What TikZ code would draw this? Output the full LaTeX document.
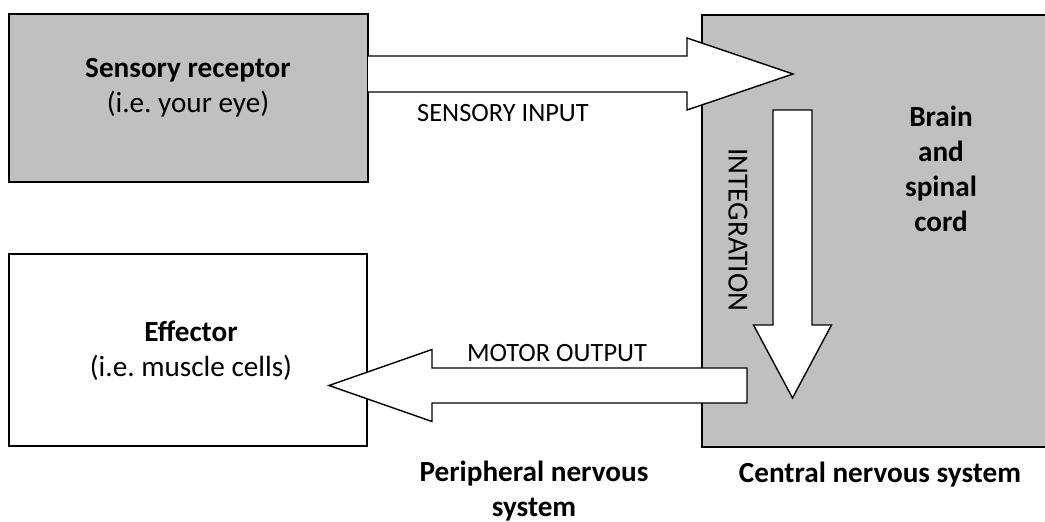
\documentclass[tikz,border=0pt]{standalone}
\usepackage{fontspec}
\setmainfont{Carlito}
\usetikzlibrary{calc}
\frenchspacing

\definecolor{organgray}{HTML}{C0C0C0}

\tikzset{
  organ/.style={draw=black, line width=1pt, inner sep=0pt},
  bigarrow/.style={draw=black, fill=white, line width=0.7pt, line join=miter},
  flowtext/.style={font=\fontsize{13.2}{17.5}\selectfont, inner sep=0pt},
  boldtext/.style={font=\fontsize{14.6}{17.5}\selectfont\bfseries, align=center, inner sep=0pt}
}

\begin{document}
\begin{tikzpicture}[x=0.5pt, y=-0.5pt]
    \useasboundingbox (0,0) rectangle (1045,522);

    % Nodes
    \node (receptor) [organ, fill=organgray, minimum width=179.5pt, minimum height=84pt] at (188.5,98) {};
    \node (effector) [organ, fill=white, minimum width=179pt, minimum height=96pt] at (188,350) {};
    \node (cns) [organ, fill=organgray, minimum width=176pt, minimum height=216pt, anchor=north west] at (701,14) {};

    \node (receptor-text) [boldtext] at (188,88) {Sensory receptor\\\normalfont(i.e. your eye)};
    \node (effector-text) [boldtext] at (191,351) {Effector\\\normalfont(i.e. muscle cells)};
    \node (brain-text) [boldtext] at (941,169) {Brain\\and\\spinal\\cord};

    % Arrows
    \coordinate (in-start) at (368,74);
    \coordinate (in-tip) at (793,74);
    \draw[bigarrow] ($(in-start)+(0,-18)$) -- ($(in-tip)+(-106,-18)$) -- ($(in-tip)+(-106,-36)$)
        -- (in-tip) -- ($(in-tip)+(-106,36)$) -- ($(in-tip)+(-106,18)$) -- ($(in-start)+(0,18)$);

    \coordinate (int-start) at (792.5,110);
    \coordinate (int-tip) at (792.5,398);
    \draw[bigarrow] ($(int-start)+(-19.5,0)$) -- ($(int-start)+(19.5,0)$) -- ($(int-tip)+(19.5,-73)$)
        -- ($(int-tip)+(39,-73)$) -- (int-tip) -- ($(int-tip)+(-39,-73)$) -- ($(int-tip)+(-19.5,-73)$) -- cycle;

    \coordinate (out-start) at (747,385.5);
    \coordinate (out-tip) at (329,385.5);
    \draw[bigarrow] ($(out-start)+(0,-17.5)$) -- ($(out-tip)+(103,-17.5)$) -- ($(out-tip)+(103,-36)$)
        -- (out-tip) -- ($(out-tip)+(103,36)$) -- ($(out-tip)+(103,17.5)$) -- ($(out-start)+(0,17.5)$) -- cycle;

    % Arrow labels
    \node (input-label) [flowtext] at (503,113) {SENSORY INPUT};
    \node (integ-label) [flowtext, font=\fontsize{14.6}{17.5}\selectfont, rotate=-90] at (738,230) {INTEGRATION};
    \node (motor-label) [flowtext] at (557,353) {MOTOR OUTPUT};

    % System labels
    \node (pns-label) [boldtext] at (534,491) {Peripheral nervous\\system};
    \node (cns-label) [boldtext] at (880,475) {Central nervous system};
\end{tikzpicture}
\end{document}
